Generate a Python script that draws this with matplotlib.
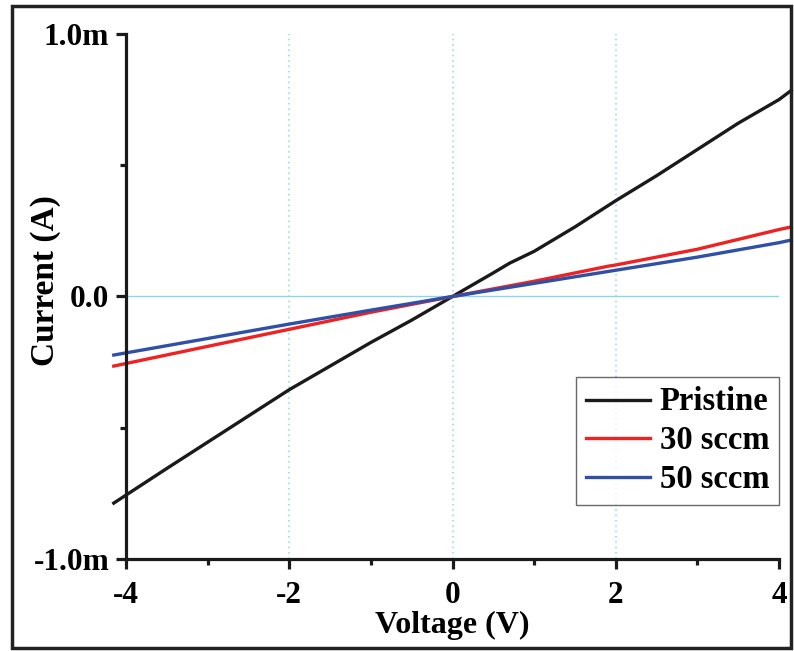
import matplotlib
matplotlib.use('Agg')
import matplotlib.pyplot as plt
from matplotlib.patches import Rectangle
from matplotlib.ticker import FuncFormatter

plt.rcParams['font.family'] = 'Liberation Serif'
plt.rcParams['font.weight'] = 'bold'

# I-V data, current in mA
v_pristine = [-4.15, -3.5, -3.0, -2.5, -2.0, -1.5, -1.0, -0.5, 0.0, 0.5, 0.7, 1.0, 1.5, 2.0, 2.5, 3.0, 3.5, 4.0, 4.15]
i_pristine = [-0.787, -0.655, -0.555, -0.455, -0.355, -0.265, -0.175, -0.09, 0.0, 0.09, 0.127, 0.172, 0.265, 0.365, 0.46, 0.56, 0.66, 0.75, 0.785]

v_30 = [-4.15, -3.0, -2.0, -1.0, 0.0, 1.0, 1.9, 2.0, 3.0, 4.0, 4.15]
i_30 = [-0.265, -0.19, -0.125, -0.06, 0.0, 0.058, 0.115, 0.12, 0.18, 0.255, 0.265]

v_50 = [-4.15, -3.0, -2.0, -1.0, 0.0, 1.0, 2.0, 2.4, 3.0, 4.0, 4.15]
i_50 = [-0.223, -0.16, -0.105, -0.052, 0.0, 0.05, 0.10, 0.12, 0.15, 0.205, 0.215]

fig = plt.figure(figsize=(7.94, 6.51), dpi=100)
ax = fig.add_axes([0.1587, 0.1413, 0.8224, 0.8065])

# figure frame
fig.patches.append(Rectangle((12 / 794, 3 / 651), 779 / 794, 642 / 651, transform=fig.transFigure,
                             fill=False, edgecolor='#222222', linewidth=2.5))

grid_c = '#86d8ea'
for gx in [-2, 0, 2]:
    ax.axvline(gx, color=grid_c, linestyle=(0, (1, 2.5)), linewidth=1.1, zorder=0)
ax.axhline(0, color=grid_c, linewidth=1.0, zorder=0)

ax.plot(v_pristine, i_pristine, color='#1a1a1a', lw=2.4, label='Pristine', clip_on=False)
ax.plot(v_30, i_30, color='#ee2222', lw=2.4, label='30 sccm', clip_on=False)
ax.plot(v_50, i_50, color='#3050a8', lw=2.4, label='50 sccm', clip_on=False)

ax.set_xlim(-4, 4)
ax.set_ylim(-1, 1)
ax.set_xticks([-4, -2, 0, 2, 4])
ax.set_xticks([-3, -1, 1, 3], minor=True)
ax.set_yticks([-1, 0, 1])
ax.set_yticks([-0.5, 0.5], minor=True)
ax.xaxis.set_major_formatter(FuncFormatter(lambda v, p: '%d' % v if v != 0 else '0'))
ax.yaxis.set_major_formatter(FuncFormatter(lambda v, p: '0.0' if v == 0 else '%.1fm' % v))

for s in ['top', 'right']:
    ax.spines[s].set_visible(False)
for s in ['left', 'bottom']:
    ax.spines[s].set_linewidth(2.3)
    ax.spines[s].set_color('#1a1a1a')

ax.tick_params(which='major', direction='out', length=7, width=2.3, labelsize=22.5, color='#1a1a1a')
ax.tick_params(axis='x', which='major', pad=9)
ax.tick_params(axis='y', which='major', pad=5)
ax.tick_params(which='minor', direction='out', length=4, width=2.3, color='#1a1a1a')

ax.set_xlabel('Voltage (V)', fontsize=23, fontweight='bold')
ax.set_ylabel('Current (A)', fontsize=24, fontweight='bold')
ax.xaxis.set_label_coords(0.5, -0.126)
ax.yaxis.set_label_coords(-0.124, 0.53)
ax.xaxis.label.set_va('center')
ax.yaxis.label.set_va('center')

leg = ax.legend(loc='lower right', bbox_to_anchor=(1.0, 0.103), fontsize=23.5, frameon=True, fancybox=False,
                handlelength=1.95, handletextpad=0.3, borderpad=0.3, labelspacing=0.24, borderaxespad=0,
                handleheight=0.6)
leg.get_frame().set_edgecolor('#444444')
leg.get_frame().set_linewidth(1.0)
for t in leg.get_texts():
    t.set_fontweight('bold')

fig.savefig('out.png', dpi=100)
